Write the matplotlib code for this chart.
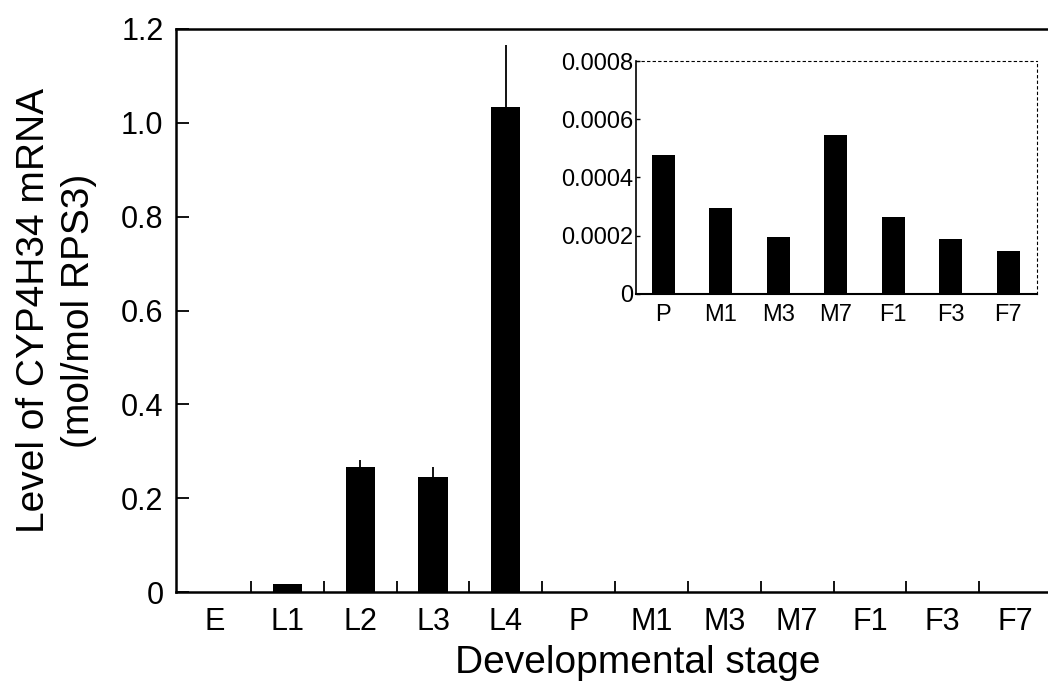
import matplotlib
matplotlib.use("Agg")
import matplotlib.pyplot as plt
import numpy as np

plt.rcParams['font.family'] = ['Liberation Sans', 'DejaVu Sans']

# main panel data
stages = ['E', 'L1', 'L2', 'L3', 'L4', 'P', 'M1', 'M3', 'M7', 'F1', 'F3', 'F7']
levels = [0.0, 0.017, 0.266, 0.245, 1.034, 0.0005, 0.0003, 0.0002, 0.0005, 0.0003, 0.0002, 0.00015]
errors = [0.0, 0.0, 0.015, 0.021, 0.132, 0.0, 0.0, 0.0, 0.0, 0.0, 0.0, 0.0]
y_ticks = [0, 0.2, 0.4, 0.6, 0.8, 1.0, 1.2]
y_ticklabels = ['0', '0.2', '0.4', '0.6', '0.8', '1.0', '1.2']

# inset data (adult stages)
inset_stages = ['P', 'M1', 'M3', 'M7', 'F1', 'F3', 'F7']
inset_levels = [0.000477, 0.000295, 0.000196, 0.000546, 0.000264, 0.000189, 0.000148]
inset_ticks = [0, 0.0002, 0.0004, 0.0006, 0.0008]
inset_ticklabels = ['0', '0.0002', '0.0004', '0.0006', '0.0008']

W, H = 1048, 691
fig = plt.figure(figsize=(W / 100, H / 100), dpi=100)

ax = fig.add_axes([176 / W, 1 - 592 / H, (1052 - 176) / W, (592 - 29) / H])
x = np.arange(len(stages))
lv = np.array(levels)
er = np.array(errors)
has_err = er > 0
ax.bar(x, lv, width=0.4, color='black')
ax.errorbar(x[has_err], lv[has_err],
            yerr=[np.zeros(has_err.sum()), er[has_err]],
            fmt='none', ecolor='black', elinewidth=1.3, capsize=0)
ax.set_xlim(-0.53, 11.5)
ax.set_ylim(0, 1.2)
ax.set_xticks(x)
ax.set_xticklabels(stages, fontsize=22)
ax.set_xticks(x[:-1] + 0.5, minor=True)
ax.tick_params(axis='x', which='major', length=0, pad=11)
ax.tick_params(axis='x', which='minor', direction='in', length=8, width=1.3)
ax.set_yticks(y_ticks)
ax.set_yticklabels(y_ticklabels, fontsize=22)
ax.tick_params(axis='y', direction='in', length=9, width=1.3, pad=9)
for s in ['left', 'bottom', 'top']:
    ax.spines[s].set_linewidth(1.8)
ax.spines['right'].set_visible(False)
ax.set_xlabel('Developmental stage', fontsize=28)
ax.xaxis.set_label_coords(0.527, -0.094, transform=ax.transAxes)
ax.xaxis.label.set_va('top')
ax.set_ylabel('Level of CYP4H34 mRNA\n(mol/mol RPS3)', fontsize=28,
              labelpad=17, linespacing=1.35)

# inset
ins = fig.add_axes([636 / W, 1 - 294 / H, (1037 - 636) / W, (294 - 61) / H])
xi = np.arange(len(inset_stages))
ins.bar(xi, inset_levels, width=0.4, color='black')
ins.set_xlim(-0.47, 6.5)
ins.set_ylim(0, 0.0008)
ins.set_xticks(xi)
ins.set_xticklabels(inset_stages, fontsize=17)
ins.tick_params(axis='x', length=0, pad=7)
ins.set_yticks(inset_ticks)
ins.set_yticklabels(inset_ticklabels, fontsize=17)
ins.tick_params(axis='y', direction='in', length=3, width=1, pad=2)
ins.spines['left'].set_linewidth(1.2)
ins.spines['bottom'].set_linewidth(1.5)
for s in ['top', 'right']:
    ins.spines[s].set_linewidth(0.8)
    ins.spines[s].set_linestyle((0, (2, 3)))

fig.savefig('out.png', dpi=100)
